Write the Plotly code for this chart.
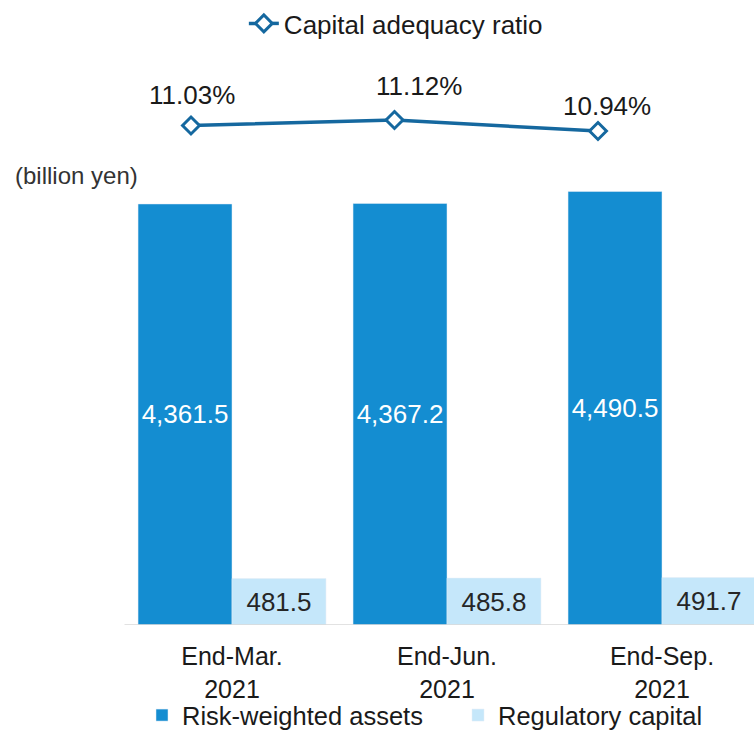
import plotly.graph_objects as go

categories = ["End-Mar.<br>2021", "End-Jun.<br>2021", "End-Sep.<br>2021"]
rwa = [4361.5, 4367.2, 4490.5]
reg_capital = [481.5, 485.8, 491.7]
car = [11.03, 11.12, 10.94]
car_labels = ["11.03%", "11.12%", "10.94%"]

FONT = "Liberation Sans, Arial, sans-serif"
BLUE = "#148DD1"
LIGHT = "#C5E7FA"
LINE = "#15689F"

pos = list(range(len(categories)))

fig = go.Figure()
fig.add_trace(go.Bar(
    x=pos, y=rwa, name="Risk-weighted assets", marker_color=BLUE,
    text=[f"{v:,.1f}" for v in rwa], textposition="inside",
    insidetextanchor="middle", constraintext="none",
    textfont=dict(family=FONT, size=26, color="white"),
    legend="legend", xaxis="x", yaxis="y",
))
fig.add_trace(go.Bar(
    x=pos, y=reg_capital, name="Regulatory capital", marker_color=LIGHT,
    text=[f"{v:,.1f}" for v in reg_capital], textposition="inside",
    insidetextanchor="middle", constraintext="none",
    textfont=dict(family=FONT, size=26, color="#262626"),
    legend="legend3", xaxis="x", yaxis="y",
))
fig.add_trace(go.Scatter(
    x=pos, y=car, name="Capital adequacy ratio", mode="lines+markers",
    line=dict(color=LINE, width=3.5),
    marker=dict(symbol="diamond", size=13, color="white",
                line=dict(color=LINE, width=3)),
    legend="legend2", xaxis="x2", yaxis="y2", cliponaxis=False,
))

xshifts = [1, 24, 9]
yshifts = [31, 34, 25]
for i, (v, lab) in enumerate(zip(car, car_labels)):
    fig.add_annotation(x=pos[i], y=v, xref="x2", yref="y2", text=lab,
                       showarrow=False, xshift=xshifts[i], yshift=yshifts[i],
                       font=dict(family=FONT, size=26, color="#1a1a1a"))

W, H = 754, 739
fig.add_annotation(x=13 / W, y=1 - 175 / H, xref="paper", yref="paper",
                   text="(billion yen)", showarrow=False,
                   xanchor="left", yanchor="middle",
                   font=dict(family=FONT, size=24, color="#333333"))

fig.add_shape(type="line", xref="x", yref="y", x0=-0.5, x1=2.6, y0=0, y1=0,
              line=dict(color="#D9D9D9", width=1.5))

legend_font = dict(family=FONT, size=25.5, color="#1a1a1a")
fig.update_layout(
    width=W, height=H,
    margin=dict(l=0, r=0, t=0, b=0),
    paper_bgcolor="white", plot_bgcolor="rgba(0,0,0,0)",
    barmode="group", bargap=0.126, bargroupgap=0,
    font=dict(family=FONT, color="#1a1a1a"),
    xaxis=dict(domain=[0, 1], range=[-232 / 215, (754 - 232) / 215],
               tickvals=pos, ticktext=categories, showgrid=False,
               zeroline=False, showline=False, ticks="",
               ticklabelstandoff=14,
               tickfont=dict(family=FONT, size=25, color="#1a1a1a"),
               anchor="y", fixedrange=True),
    yaxis=dict(domain=[(H - 625) / H, 1], range=[0, 625 / 0.09653],
               visible=False, showgrid=False, zeroline=False, anchor="x"),
    xaxis2=dict(domain=[0, 1], range=[-191 / 203.5, (754 - 191) / 203.5],
                visible=False, anchor="y2"),
    yaxis2=dict(domain=[0, 1], range=[11.12 - 619 / 61.1, 11.12 + 120 / 61.1],
                visible=False, anchor="x2"),
    legend=dict(orientation="h", x=142 / W, xanchor="left", y=0, yanchor="bottom",
                font=legend_font, bgcolor="rgba(0,0,0,0)"),
    legend3=dict(orientation="h", x=458 / W, xanchor="left", y=0, yanchor="bottom",
                 font=legend_font, bgcolor="rgba(0,0,0,0)"),
    legend2=dict(orientation="h", x=0.525, xanchor="center", y=1, yanchor="top",
                 font=dict(family=FONT, size=26, color="#1a1a1a"),
                 bgcolor="rgba(0,0,0,0)"),
    showlegend=True,
)

fig.write_html("out.html")
